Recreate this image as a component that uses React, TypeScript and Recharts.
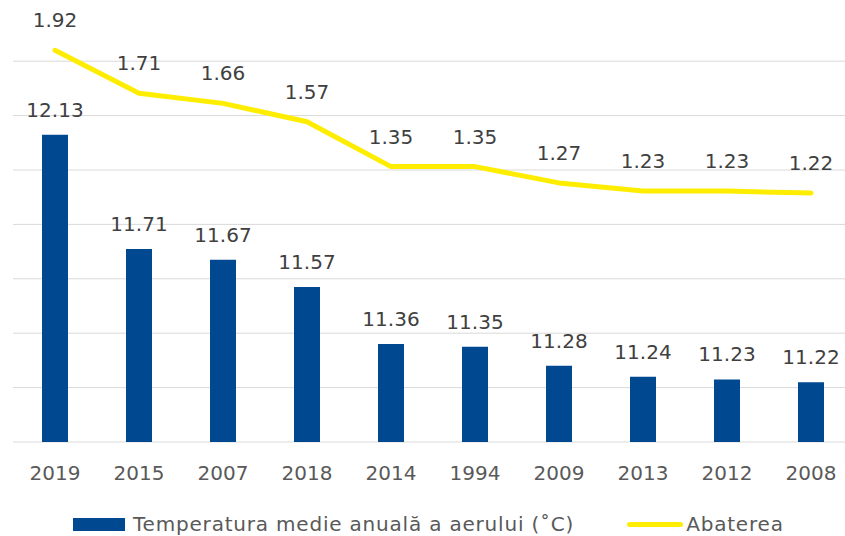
import { ComposedChart, Bar, Line, XAxis, YAxis, CartesianGrid, LabelList, Legend } from 'recharts';

const years = ['2019', '2015', '2007', '2018', '2014', '1994', '2009', '2013', '2012', '2008'];
const temperatura = [12.13, 11.71, 11.67, 11.57, 11.36, 11.35, 11.28, 11.24, 11.23, 11.22];
const abaterea = [1.92, 1.71, 1.66, 1.57, 1.35, 1.35, 1.27, 1.23, 1.23, 1.22];
const leftTicks = [11, 11.2, 11.4, 11.6, 11.8, 12, 12.2, 12.4];
const leftDomain: [number, number] = [11, 12.5];

const BAR_NAME = 'Temperatura medie anuală a aerului (˚C)';
const LINE_NAME = 'Abaterea';

const data = years.map((year, i) => ({
    year,
    temp: temperatura[i],
    dev: abaterea[i],
}));

const FONT = '"DejaVu Sans", Verdana, sans-serif';

const renderLegend = () => (
    <div style={{ display: 'flex', alignItems: 'center', height: 48, paddingLeft: 60, fontFamily: FONT, fontSize: 20, letterSpacing: 0.8, color: '#595959', paddingTop: 24, boxSizing: 'border-box' }}>
        <span style={{ display: 'inline-block', width: 52, height: 13, background: '#004990', marginRight: 8 }} />
        <span>{BAR_NAME}</span>
        <span style={{ display: 'inline-block', width: 56, height: 5, borderRadius: 3, background: '#FFED00', marginLeft: 53, marginRight: 3 }} />
        <span>{LINE_NAME}</span>
    </div>
);

// grid lines only at the left-axis ticks (no line at the top edge of the plot)
const gridRows = ({ yAxis, offset }: any) => {
    const sc = yAxis && yAxis.scale;
    if (typeof sc === 'function') return leftTicks.map((t) => sc(t));
    if (sc && typeof sc.map === 'function') return leftTicks.map((t) => sc.map(t));
    const [lo, hi] = leftDomain;
    return leftTicks.map((t) => offset.top + offset.height * (1 - (t - lo) / (hi - lo)));
};

export default function App() {
    return (
        <div style={{ position: 'absolute', left: 0, top: 0, width: 845, height: 536, overflow: 'hidden', background: '#fff' }}>
            <ComposedChart
                width={870}
                height={536}
                data={data}
                margin={{ top: 34, right: 17, left: 13, bottom: 0 }}
                style={{ fontFamily: FONT }}
            >
                <CartesianGrid yAxisId="left" vertical={false} stroke="#d9d9d9" strokeWidth={1} horizontalCoordinatesGenerator={gridRows} />
                <XAxis
                    dataKey="year"
                    axisLine={false}
                    tickLine={false}
                    tickMargin={18}
                    height={46}
                    tick={{ fill: '#595959', fontSize: 20 }}
                    interval={0}
                />
                <YAxis yAxisId="left" hide domain={leftDomain} ticks={leftTicks} allowDataOverflow />
                <YAxis yAxisId="right" hide orientation="right" domain={[0, 2]} allowDataOverflow />
                <Legend verticalAlign="bottom" height={48} content={renderLegend} />
                <Bar yAxisId="left" dataKey="temp" name={BAR_NAME} fill="#004990" barSize={26} isAnimationActive={false}>
                    <LabelList dataKey="temp" position="top" offset={18} fill="#404040" fontSize={20} formatter={(v: number) => v.toFixed(2)} />
                </Bar>
                <Line
                    yAxisId="right"
                    dataKey="dev"
                    name={LINE_NAME}
                    type="linear"
                    stroke="#FFED00"
                    strokeWidth={5}
                    strokeLinecap="round"
                    strokeLinejoin="round"
                    dot={false}
                    activeDot={false}
                    isAnimationActive={false}
                >
                    <LabelList dataKey="dev" position="top" offset={23} fill="#404040" fontSize={20} formatter={(v: number) => v.toFixed(2)} />
                </Line>
            </ComposedChart>
        </div>
    );
}
